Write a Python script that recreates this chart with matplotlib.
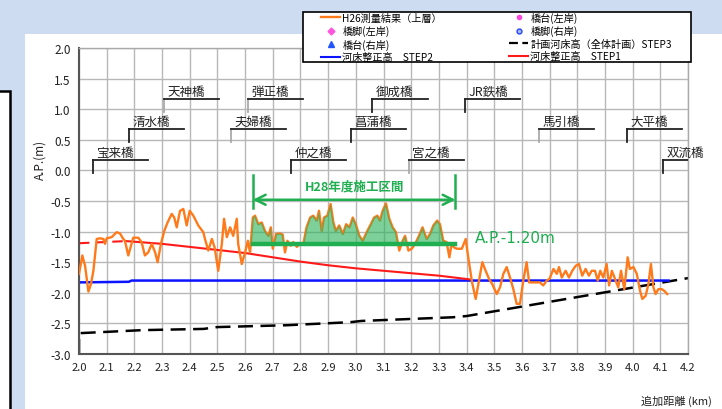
import matplotlib
matplotlib.use('Agg')
import matplotlib.pyplot as plt
import numpy as np
from matplotlib.lines import Line2D
from matplotlib.patches import Rectangle

plt.rcParams['font.family'] = ['Noto Sans CJK JP', 'DejaVu Sans']
plt.rcParams['axes.unicode_minus'] = False

# H26測量結果（上層）
prof_km = [2.000, 2.012, 2.022, 2.034, 2.043, 2.052, 2.064, 2.076, 2.088, 2.094,
           2.100, 2.118, 2.136, 2.148, 2.160, 2.166, 2.178, 2.196, 2.214, 2.226,
           2.238, 2.250, 2.263, 2.275, 2.284, 2.296, 2.308, 2.320, 2.335, 2.344,
           2.353, 2.365, 2.377, 2.389, 2.400, 2.413, 2.431, 2.449, 2.455, 2.467,
           2.480, 2.490, 2.503, 2.516, 2.524, 2.534, 2.546, 2.557, 2.570, 2.575,
           2.588, 2.600, 2.610, 2.618,
           2.628, 2.636, 2.648, 2.660, 2.672, 2.684, 2.693, 2.700, 2.712, 2.726,
           2.736, 2.744, 2.753, 2.765, 2.774, 2.787, 2.798, 2.810, 2.822, 2.835,
           2.846, 2.859, 2.867, 2.877, 2.885, 2.897, 2.909, 2.919, 2.928, 2.940,
           2.953, 2.965, 2.977, 2.989, 3.000, 3.013, 3.025, 3.039, 3.054, 3.066,
           3.078, 3.087, 3.097, 3.109, 3.121, 3.133, 3.145, 3.157, 3.169, 3.178,
           3.190, 3.202, 3.214, 3.226, 3.241, 3.256, 3.268, 3.280, 3.294, 3.304,
           3.316, 3.328, 3.338, 3.346, 3.355,
           3.365, 3.383, 3.397, 3.406, 3.420, 3.433, 3.445, 3.457, 3.469, 3.481,
           3.493, 3.509, 3.521, 3.533, 3.545, 3.557, 3.569, 3.581, 3.593, 3.605,
           3.617, 3.626, 3.647, 3.665, 3.677, 3.690, 3.700, 3.714, 3.726, 3.734,
           3.744, 3.758, 3.770, 3.782, 3.794, 3.806, 3.818, 3.830, 3.842, 3.852,
           3.864, 3.874, 3.883, 3.894, 3.906, 3.915, 3.925, 3.936, 3.948, 3.958,
           3.970, 3.982, 3.990, 4.003, 4.015, 4.027, 4.035, 4.047, 4.057, 4.066,
           4.075, 4.083, 4.093, 4.105, 4.115, 4.125]
prof_m = [-1.69, -1.39, -1.56, -1.98, -1.86, -1.64, -1.12, -1.11, -1.12, -1.20,
          -1.11, -1.09, -1.01, -1.03, -1.12, -1.15, -1.39, -1.10, -1.10, -1.17,
          -1.39, -1.34, -1.20, -1.34, -1.50, -1.20, -0.99, -0.85, -0.71, -0.77,
          -0.93, -0.66, -0.63, -0.90, -0.66, -0.74, -0.90, -1.01, -1.12, -1.31,
          -1.12, -1.26, -1.64, -1.20, -0.79, -1.09, -0.93, -1.07, -0.79, -1.20,
          -1.53, -1.34, -1.15, -1.34,
          -0.77, -0.74, -0.88, -0.85, -0.99, -1.07, -0.93, -1.28, -1.04, -1.03,
          -1.05, -1.34, -1.15, -1.23, -1.17, -1.25, -1.20, -1.21, -0.93, -0.77,
          -0.74, -0.82, -0.66, -0.99, -0.77, -0.74, -0.55, -0.85, -0.99, -0.90,
          -1.04, -0.88, -0.93, -0.77, -0.88, -1.07, -1.15, -1.01, -0.88, -0.77,
          -0.74, -0.82, -0.66, -0.54, -0.79, -0.93, -1.01, -1.31, -1.15, -1.07,
          -1.31, -1.28, -1.20, -1.09, -0.93, -1.12, -1.04, -0.90, -0.82, -0.88,
          -1.15, -1.17, -1.42, -1.20, -1.26,
          -1.28, -1.28, -1.12, -1.42, -1.83, -2.10, -1.80, -1.50, -1.64, -1.77,
          -1.86, -2.02, -1.91, -1.69, -1.58, -1.75, -1.94, -2.18, -2.18, -1.80,
          -1.50, -1.83, -1.83, -1.83, -1.88, -1.80, -1.77, -1.61, -1.69, -1.58,
          -1.75, -1.64, -1.75, -1.64, -1.56, -1.53, -1.72, -1.61, -1.72, -1.64,
          -1.64, -1.80, -1.64, -1.75, -1.53, -1.88, -1.64, -1.77, -1.91, -1.64,
          -1.94, -1.42, -1.61, -1.58, -1.69, -1.97, -2.10, -2.05, -1.86, -1.53,
          -1.91, -2.02, -1.94, -1.94, -1.97, -2.02]

# 河床整正高 STEP1
step1_dash_km = [2.00, 2.17]
step1_dash_m = [-1.19, -1.155]
step1_km = [2.17, 2.3, 2.4, 2.5, 2.6, 2.7, 2.8, 2.9, 3.0, 3.1, 3.2, 3.3, 3.41]
step1_m = [-1.155, -1.20, -1.25, -1.30, -1.35, -1.42, -1.49, -1.55, -1.60, -1.64, -1.68, -1.72, -1.78]

# 河床整正高 STEP2
step2_km = [2.00, 2.18, 2.19, 4.13]
step2_m = [-1.83, -1.82, -1.80, -1.80]

# 計画河床高（全体計画）STEP3
step3_km = [2.00, 2.00, 2.23, 2.45, 2.50, 2.75, 2.98, 3.02, 3.35, 3.40, 4.20]
step3_m = [-3.00, -2.66, -2.61, -2.59, -2.56, -2.53, -2.48, -2.46, -2.40, -2.38, -1.76]

# 橋梁
bridges = ['宝来橋', '清水橋', '天神橋', '夫婦橋', '弾正橋', '仲之橋', '菖蒲橋',
           '御成橋', '宮之橋', 'JR鉄橋', '馬引橋', '大平橋', '双流橋']
bridge_km = [2.051, 2.181, 2.307, 2.549, 2.611, 2.766, 2.983, 3.059, 3.192, 3.394,
             3.662, 3.980, 4.110]
bridge_level = [0, 1, 2, 1, 2, 0, 1, 2, 0, 2, 1, 1, 0]
bridge_faint = [False, False, True, True, True, False, False, False, True, False,
                True, False, False]

# H28年度施工区間
sec_start, sec_end = 2.628, 3.36
sec_level = -1.20

orange = '#ff7a1a'
green = '#1fae50'

fig = plt.figure(figsize=(7.22, 4.10), dpi=100, facecolor='#cddcf0')
fig.patches.append(Rectangle((25/722, 0), 1, (410-35)/410, transform=fig.transFigure,
                             facecolor='white', edgecolor='none', zorder=-10))
fig.patches.append(Rectangle((-0.02, -0.02), 0.02 + 10/722, 0.02 + (410-92)/410,
                             transform=fig.transFigure, facecolor='white',
                             edgecolor='black', lw=1.8, zorder=-9))

ax = fig.add_axes([79/722, 1-355/410, (688-79)/722, (355-49)/410])
ax.set_facecolor('white')
ax.set_xlim(2.0, 4.2)
ax.set_ylim(-3.0, 2.0)
ax.set_xticks(np.round(np.arange(2.0, 4.21, 0.1), 1))
ax.set_xticklabels([f'{v:.1f}' for v in np.arange(2.0, 4.21, 0.1)], fontsize=8, color='#222')
ax.set_yticks(np.arange(-3.0, 2.01, 0.5))
ax.set_yticklabels([f'{v:.1f}' for v in np.arange(-3.0, 2.01, 0.5)], fontsize=8.5, color='#222')
ax.tick_params(length=0, pad=6)
ax.grid(True, color='#b8b8b8', lw=1.0)
ax.set_axisbelow(True)
for s in ['left', 'bottom']:
    ax.spines[s].set_color('#555')
    ax.spines[s].set_linewidth(1.5)
for s in ['right', 'top']:
    ax.spines[s].set_color('#aaa')
    ax.spines[s].set_linewidth(1.0)

km = np.array(prof_km)
pm = np.array(prof_m)

ax.plot(step3_km, step3_m, color='black', lw=1.8, dashes=(6, 3), zorder=2)
ax.plot(step2_km, step2_m, color='#0a14ff', lw=1.8, zorder=2)
ax.plot(step1_dash_km, step1_dash_m, color='#ff1a1a', lw=1.5, dashes=(5, 3), zorder=2)
ax.plot(step1_km, step1_m, color='#ff1a1a', lw=1.5, zorder=2)
ax.plot(km, pm, color=orange, lw=1.7, zorder=3)

mask = (km >= sec_start - 0.001) & (km <= sec_end)
ax.fill_between(km, pm, sec_level, where=mask & (pm > sec_level), interpolate=True,
                color='#2db35a', alpha=0.62, lw=0, zorder=4)
ax.plot([sec_start, sec_end], [sec_level, sec_level], color=green, lw=3.2, zorder=5)

# 施工区間の矢印
for xv in [sec_start, sec_end]:
    ax.plot([xv, xv], [-0.08, -0.62], color=green, lw=1.8, zorder=5)
ax.annotate('', xy=(sec_start, -0.48), xytext=(sec_end, -0.48),
            arrowprops=dict(arrowstyle='<->', color=green, lw=1.8,
                            mutation_scale=18, shrinkA=0, shrinkB=0), zorder=5)
ax.text((sec_start + sec_end) / 2, -0.25, 'H28年度施工区間', ha='center', va='center',
        fontsize=9, fontweight='bold', color=green, zorder=6)
ax.text(3.43, -1.09, 'A.P.-1.20m', ha='left', va='center', fontsize=11,
        color=green, family=['DejaVu Sans'], zorder=6)

# 橋梁ラベル
levels = [0.17, 0.68, 1.17]
for name, bx, lv, faint in zip(bridges, bridge_km, bridge_level, bridge_faint):
    y = levels[lv]
    vcol = '#aaaaaa' if faint else '#222222'
    ax.plot([bx, bx], [y - 0.21, y], color=vcol, lw=1.3, zorder=6)
    ax.plot([bx, bx + 0.2], [y, y], color='#222222', lw=1.3, zorder=6)
    ax.text(bx + 0.012, y + 0.02, name, ha='left', va='bottom', fontsize=9,
            color='#222', zorder=6)

fig.text(40/722, 1-160/410, 'A.P.(m)', rotation=90, ha='center', va='center',
         fontsize=8.5, color='#222')
fig.text(712/722, 1-401/410, '追加距離 (km)', ha='right', va='center',
         fontsize=8, color='#222')

# 凡例（枠は別に描く）
fig.patches.append(Rectangle((303/722, 1-63/410), (691-303)/722, 50/410,
                             transform=fig.transFigure, facecolor='white',
                             edgecolor='black', lw=1.2, zorder=4))
handles = [
    Line2D([], [], color=orange, lw=1.7),
    Line2D([], [], ls='none', marker='D', ms=3.5, color='#ff55dd'),
    Line2D([], [], ls='none', marker='^', ms=4, color='#2255ff'),
    Line2D([], [], color='#0a14ff', lw=1.5),
    Line2D([], [], ls='none', marker='o', ms=3, color='#ff44dd'),
    Line2D([], [], ls='none', marker='o', ms=3.5, color='#2244ff', mfc='#aabbff'),
    Line2D([], [], color='black', lw=1.6, dashes=(4, 2)),
    Line2D([], [], color='#ff1a1a', lw=1.5),
]
labels = ['H26測量結果（上層）', '橋脚(左岸)', '橋台(右岸)', '河床整正高　STEP2',
          '橋台(左岸)', '橋脚(右岸)', '計画河床高（全体計画）STEP3', '河床整正高　STEP1']
leg = fig.legend(handles, labels, ncol=2, loc='center left',
                 bbox_to_anchor=(321/722, 1-64/410, (672-321)/722, 52/410),
                 mode='expand', borderaxespad=0, fontsize=7.3, frameon=False,
                 handlelength=1.9, handletextpad=0.2, labelspacing=0.25,
                 borderpad=0, columnspacing=1.0)
leg.set_zorder(5)

fig.savefig('out.png', dpi=100, facecolor=fig.get_facecolor())
